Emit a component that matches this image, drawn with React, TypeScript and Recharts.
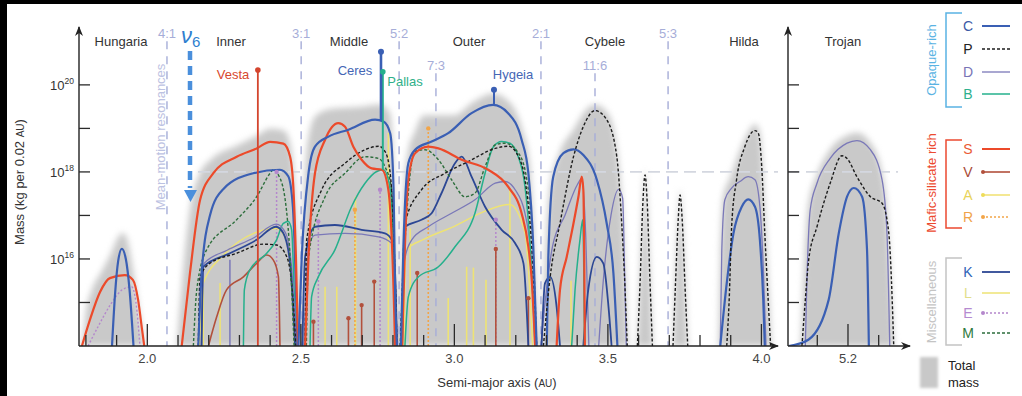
import React from "react";
import { ComposedChart, Area, Line, XAxis, YAxis, ReferenceLine } from "recharts";

type Pt = [number, number];

// log10 mass (kg per 0.02 AU) against semi-major axis (AU)
const totalMain: Pt[] = [
  [1.7775, 14], [1.787, 14.05], [1.8, 14.8], [1.82, 15.3], [1.85, 15.7], [1.88, 16.1], [1.905, 16.5], [1.92, 16.6],
  [1.935, 16.45], [1.95, 15.9], [1.965, 15.2], [1.98, 14.5], [1.995, 14], [2.095, 14], [2.105, 14.8], [2.12, 16.0],
  [2.14, 17.2], [2.17, 17.95], [2.21, 18.3], [2.29, 18.6], [2.36, 18.85], [2.4, 19.0], [2.445, 18.95], [2.465, 18.65],
  [2.478, 17.9], [2.487, 16.5], [2.496, 14.6], [2.503, 15.8], [2.512, 17.8], [2.525, 18.8], [2.55, 19.3], [2.6, 19.45],
  [2.7, 19.5], [2.76, 19.55], [2.79, 19.35], [2.8, 18.5], [2.808, 16.5], [2.818, 14.5], [2.828, 15.5], [2.835, 17.5],
  [2.85, 18.5], [2.87, 18.9], [2.9, 19.3], [2.95, 19.3], [3.0, 19.3], [3.06, 19.6], [3.126, 19.8], [3.18, 19.6],
  [3.22, 19.0], [3.245, 18.2], [3.258, 16.8], [3.268, 15], [3.278, 14], [3.284, 14.2], [3.295, 16], [3.31, 17.6],
  [3.34, 18.4], [3.39, 19.0], [3.42, 19.35], [3.458, 19.55], [3.5, 19.35], [3.53, 18.5], [3.548, 17], [3.558, 15.5],
  [3.568, 14], [3.594, 14], [3.604, 15.6], [3.614, 17.4], [3.621, 18.05], [3.628, 17.4], [3.638, 15.6], [3.648, 14],
  [3.71, 14], [3.719, 15.5], [3.729, 17], [3.735, 17.6], [3.742, 17], [3.752, 15.5], [3.762, 14], [3.86, 14],
  [3.866, 16], [3.875, 17.4], [3.9, 17.9], [3.93, 18.5], [3.96, 18.95], [3.98, 19.1], [3.995, 18.9], [4.005, 18.0],
  [4.015, 16.6], [4.025, 15.2], [4.035, 14], [4.054, 14],
];
const totalTrojan: Pt[] = [
  [5.0046, 14], [5.045, 14], [5.055, 15.5], [5.07, 17.2], [5.1, 17.95], [5.14, 18.5], [5.2, 18.85], [5.23, 18.9],
  [5.27, 18.7], [5.31, 18.0], [5.328, 17.0], [5.34, 15.4], [5.352, 14], [5.402, 14],
];

// Hungaria
const cHung: Pt[] = [[1.885, 14], [1.895, 15.2], [1.905, 15.95], [1.917, 16.23], [1.93, 16.0], [1.942, 15.3], [1.955, 14]];
const sHung: Pt[] = [[1.787, 14], [1.813, 14.6], [1.846, 15.24], [1.878, 15.56], [1.927, 15.63], [1.953, 15.52], [1.97, 15.06], [1.983, 14.37], [1.99, 14]];
const eHung: Pt[] = [[1.807, 14], [1.84, 14.45], [1.88, 14.95], [1.92, 15.3], [1.949, 15.36], [1.963, 15.0], [1.976, 14]];

// Inner belt
const sInner: Pt[] = [[2.112, 14], [2.139, 15.68], [2.172, 17.36], [2.215, 17.97], [2.291, 18.35], [2.356, 18.54], [2.4, 18.69], [2.443, 18.65], [2.465, 18.35], [2.476, 17.59], [2.484, 16.05], [2.491, 14]];
const cInner: Pt[] = [[2.166, 14], [2.177, 15.68], [2.204, 17.0], [2.248, 17.61], [2.345, 17.97], [2.432, 18.05], [2.459, 17.9], [2.474, 17.2], [2.481, 16.05], [2.489, 14]];
const mInner: Pt[] = [[2.15, 14], [2.161, 15.29], [2.193, 16.21], [2.291, 16.9], [2.356, 17.43], [2.4, 17.97], [2.41, 18.05], [2.427, 17.93], [2.449, 17.36], [2.465, 16.05], [2.478, 14]];
const pInner: Pt[] = [[2.166, 14], [2.172, 15.59], [2.204, 15.9], [2.291, 16.13], [2.378, 16.34], [2.421, 16.32], [2.454, 16.05], [2.47, 15.44], [2.484, 14]];
const kInner: Pt[] = [[2.177, 14], [2.182, 15.82], [2.269, 16.13], [2.356, 16.44], [2.419, 16.74], [2.443, 16.59], [2.465, 15.9], [2.481, 14]];
const dInner: Pt[] = [[2.175, 14], [2.185, 15.9], [2.26, 16.2], [2.35, 16.5], [2.42, 16.8], [2.45, 16.6], [2.47, 15.8], [2.485, 14]];
const bInner: Pt[] = [[2.313, 14], [2.316, 15.29], [2.334, 15.75], [2.389, 16.13], [2.421, 16.44], [2.443, 16.82], [2.459, 16.86], [2.47, 16.67], [2.478, 15.29], [2.484, 14]];
const vInner: Pt[] = [[2.199, 14], [2.226, 14.67], [2.258, 15.29], [2.313, 15.59], [2.356, 15.9], [2.389, 16.09], [2.41, 15.98], [2.427, 15.59], [2.432, 14]];
const lInner: Pt[] = [[2.17, 14], [2.18, 15.4], [2.25, 16.1], [2.35, 16.6], [2.42, 16.7], [2.46, 16.3], [2.48, 14]];

// Middle belt
const cMid: Pt[] = [[2.492, 14], [2.503, 16.05], [2.525, 17.97], [2.546, 18.58], [2.59, 18.81], [2.655, 18.97], [2.742, 19.2], [2.769, 19.16], [2.791, 18.89], [2.802, 17.59], [2.807, 15.29], [2.813, 14]];
const sMid: Pt[] = [[2.514, 14], [2.525, 16.05], [2.546, 17.97], [2.579, 18.74], [2.622, 19.12], [2.644, 19.04], [2.671, 18.58], [2.698, 18.28], [2.731, 18.08], [2.764, 18.05], [2.785, 17.59], [2.802, 15.29], [2.807, 14]];
const pMid: Pt[] = [[2.514, 14], [2.519, 16.44], [2.568, 17.59], [2.644, 18.2], [2.709, 18.51], [2.753, 18.59], [2.774, 18.47], [2.791, 17.97], [2.805, 16.05], [2.813, 14]];
const mMid: Pt[] = [[2.518, 14], [2.525, 16.05], [2.579, 17.43], [2.644, 17.97], [2.709, 18.35], [2.753, 18.31], [2.774, 18.12], [2.796, 17.59], [2.803, 16.0], [2.807, 14]];
const bMid: Pt[] = [[2.53, 14], [2.535, 15.13], [2.557, 15.59], [2.611, 16.21], [2.665, 17.2], [2.709, 17.74], [2.747, 18.01], [2.769, 18.05], [2.785, 17.82], [2.796, 17.2], [2.805, 15.29], [2.809, 14]];
const kMid: Pt[] = [[2.505, 14], [2.514, 16.05], [2.546, 16.74], [2.611, 16.78], [2.698, 16.67], [2.774, 16.59], [2.796, 16.44], [2.807, 15.67], [2.813, 14]];
const dMid: Pt[] = [[2.51, 14], [2.525, 16.28], [2.546, 16.55], [2.644, 16.59], [2.753, 16.51], [2.796, 16.36], [2.807, 15.59], [2.813, 14]];

// Outer belt
const cOut: Pt[] = [[2.826, 14], [2.834, 16.28], [2.85, 18.2], [2.872, 18.51], [2.926, 18.7], [2.98, 18.89], [3.056, 19.35], [3.126, 19.54], [3.175, 19.35], [3.219, 18.74], [3.241, 17.97], [3.257, 16.28], [3.268, 14]];
const sOut: Pt[] = [[2.83, 14], [2.839, 16.28], [2.85, 17.82], [2.872, 18.43], [2.915, 18.58], [2.948, 18.54], [3.024, 18.28], [3.11, 18.05], [3.175, 17.66], [3.219, 17.05], [3.241, 16.28], [3.252, 15.52], [3.263, 14]];
const pOut: Pt[] = [[2.824, 14], [2.828, 14.75], [2.839, 16.82], [2.893, 17.59], [2.97, 17.97], [3.046, 18.24], [3.133, 18.54], [3.176, 18.59], [3.209, 18.35], [3.23, 17.82], [3.252, 16.28], [3.268, 14]];
const mOut: Pt[] = [[2.824, 14], [2.828, 14.75], [2.845, 17.05], [2.872, 18.47], [2.904, 18.51], [2.948, 18.28], [2.991, 17.82], [3.035, 17.43], [3.067, 17.51], [3.1, 18.12], [3.133, 18.62], [3.165, 18.66], [3.209, 18.43], [3.236, 17.82], [3.257, 16.13], [3.268, 14]];
const bOut: Pt[] = [[2.839, 14], [2.85, 15.13], [2.883, 15.59], [2.948, 15.82], [3.002, 16.28], [3.067, 17.05], [3.1, 17.97], [3.127, 18.58], [3.154, 18.7], [3.181, 18.66], [3.208, 18.35], [3.23, 17.66], [3.247, 16.28], [3.263, 14]];
const kOut: Pt[] = [[2.83, 14], [2.834, 15.5], [2.839, 16.74], [2.893, 16.9], [2.926, 17.05], [2.958, 17.51], [3.002, 18.2], [3.024, 18.35], [3.056, 17.89], [3.1, 17.2], [3.154, 16.67], [3.198, 16.36], [3.225, 15.9], [3.241, 14]];
const dOut: Pt[] = [[2.828, 14], [2.834, 15.82], [2.861, 16.44], [2.915, 16.74], [2.991, 17.05], [3.067, 17.36], [3.133, 17.74], [3.165, 17.78], [3.198, 17.59], [3.23, 17.05], [3.252, 15.82], [3.263, 14]];
const lOut: Pt[] = [[2.836, 14], [2.842, 16.2], [2.9, 16.45], [3.0, 16.75], [3.1, 17.1], [3.18, 17.25], [3.23, 16.6], [3.255, 14]];

// Cybele
const pCyb: Pt[] = [[3.29, 14], [3.312, 15.59], [3.344, 16.82], [3.388, 18.35], [3.42, 19.04], [3.458, 19.41], [3.496, 19.2], [3.529, 18.35], [3.545, 16.82], [3.556, 15.29], [3.563, 14]];
const cCyb: Pt[] = [[3.301, 14], [3.306, 16.05], [3.322, 17.89], [3.355, 18.43], [3.388, 18.52], [3.42, 18.39], [3.464, 17.82], [3.496, 16.82], [3.518, 15.67], [3.531, 14]];
const dCyb1: Pt[] = [[3.282, 14], [3.3, 15.3], [3.32, 16.3], [3.36, 17.0], [3.4, 17.7], [3.415, 17.85], [3.428, 16.5], [3.438, 14]];
const dCyb2: Pt[] = [[3.47, 14], [3.485, 15.5], [3.51, 17.0], [3.535, 17.6], [3.548, 17.4], [3.555, 15.5], [3.56, 14]];
const sCyb: Pt[] = [[3.333, 14], [3.344, 15.29], [3.366, 16.05], [3.388, 16.82], [3.404, 17.43], [3.415, 17.89], [3.42, 17.59], [3.423, 16.05], [3.425, 14]];
const bCyb: Pt[] = [[3.382, 14], [3.393, 15.29], [3.409, 16.44], [3.418, 16.9], [3.421, 16.05], [3.424, 14]];
const kCyb1: Pt[] = [[3.284, 14], [3.295, 15.44], [3.312, 15.59], [3.333, 14.9], [3.344, 14]];
const kCyb2: Pt[] = [[3.42, 14], [3.436, 15.29], [3.464, 16.05], [3.485, 15.9], [3.502, 14.9], [3.512, 14]];
const pPeak1: Pt[] = [[3.596, 14], [3.605, 15.5], [3.614, 17.3], [3.621, 17.93], [3.628, 17.3], [3.637, 15.5], [3.645, 14]];
const pPeak2: Pt[] = [[3.712, 14], [3.72, 15.4], [3.729, 16.9], [3.735, 17.47], [3.742, 16.9], [3.751, 15.4], [3.76, 14]];

// Hilda
const pHil: Pt[] = [[3.887, 14], [3.895, 15.06], [3.903, 16.74], [3.919, 17.82], [3.946, 18.58], [3.979, 18.95], [3.99, 18.89], [4.001, 18.12], [4.011, 16.59], [4.022, 15.06], [4.03, 14]];
const dHil: Pt[] = [[3.866, 14], [3.871, 16.21], [3.881, 17.36], [3.903, 17.63], [3.93, 17.78], [3.957, 17.89], [3.979, 17.82], [3.995, 17.2], [4.006, 15.82], [4.015, 14]];
const cHil: Pt[] = [[3.866, 14], [3.887, 15.44], [3.909, 16.59], [3.936, 17.2], [3.957, 17.37], [3.979, 17.2], [3.995, 16.44], [4.006, 15.06], [4.011, 14]];

// Trojan
const dTro: Pt[] = [[5.061, 14], [5.066, 15.44], [5.077, 17.13], [5.099, 17.74], [5.142, 18.31], [5.197, 18.66], [5.229, 18.72], [5.273, 18.51], [5.311, 17.82], [5.327, 16.59], [5.336, 14]];
const pTro: Pt[] = [[5.05, 14], [5.061, 15.06], [5.072, 15.98], [5.099, 16.74], [5.142, 17.74], [5.18, 18.37], [5.197, 18.31], [5.229, 17.89], [5.273, 17.43], [5.311, 17.28], [5.333, 16.59], [5.344, 15.06], [5.349, 14]];
const cTro: Pt[] = [[5.007, 14], [5.072, 14.15], [5.137, 15.06], [5.17, 16.59], [5.197, 17.43], [5.219, 17.63], [5.246, 17.43], [5.262, 16.21], [5.268, 14]];

// single large bodies, one stem each
const vStems: Pt[] = [[2.541, 14.56], [2.655, 14.64], [2.698, 14.94], [2.739, 15.48], [2.879, 15.68], [3.135, 16.23], [3.241, 15.1]];
const rStems: Pt[] = [[2.676, 17.13], [2.915, 19.0]];
const eStems: Pt[] = [[2.421, 18.0], [2.557, 16.86], [2.758, 17.59], [3.135, 16.9]];
const lStems: Pt[] = [[2.182, 15.36], [2.237, 15.45], [2.579, 15.36], [2.617, 15.36], [2.678, 17.43], [2.785, 18.9], [2.856, 16.7], [2.98, 15.1], [3.04, 15.82], [3.062, 15.8], [3.103, 15.52], [3.181, 17.59], [3.38, 15.5]];
const dStems: Pt[] = [[2.269, 15.98]];

const vesta: Pt = [2.36, 20.34];
const ceres: Pt = [2.761, 20.76];
const pallas: Pt = [2.767, 20.3];
const hygeia: Pt = [3.129, 19.89];

const mainTicks = [1.8, 1.9, 2.0, 2.1, 2.2, 2.3, 2.4, 2.5, 2.6, 2.7, 2.8, 2.9, 3.0, 3.1, 3.2, 3.3, 3.4, 3.5, 3.6, 3.7, 3.8, 3.9, 4.0];
const mainLabels = [2.0, 2.5, 3.0, 3.5, 4.0];
const trojanTicks = [5.1, 5.2, 5.3];
const trojanLabels = [5.2];
const massTicks = [15, 16, 17, 18, 19, 20];

const resonances: [string, number][] = [["4:1", 2.064], ["3:1", 2.501], ["5:2", 2.82], ["2:1", 3.282], ["5:3", 3.696]];
const lowResonances: [string, number][] = [["7:3", 2.94], ["11:6", 3.458]];

const FONT = "'Liberation Sans', Arial, Helvetica, sans-serif";

const STYLE: Record<string, { stroke: string; width: number; dash?: string }> = {
  C: { stroke: "#3a5fb4", width: 2.2 },
  P: { stroke: "#1c1c1c", width: 1.4, dash: "3 2" },
  D: { stroke: "#7a78b8", width: 1.3 },
  B: { stroke: "#25b08c", width: 1.5 },
  S: { stroke: "#ec4a2a", width: 2.2 },
  V: { stroke: "#b2503c", width: 1.6 },
  A: { stroke: "#eedc58", width: 1.3 },
  R: { stroke: "#f2a548", width: 1.6, dash: "2 2" },
  K: { stroke: "#2c4794", width: 1.8 },
  L: { stroke: "#eee374", width: 1.5 },
  E: { stroke: "#b487cc", width: 1.4, dash: "2 2" },
  M: { stroke: "#2d6e3c", width: 1.4, dash: "3 2" },
};

const LETTER: Record<string, string> = {
  C: "#3c5aa6", P: "#222", D: "#7874b6", B: "#2fb08d", S: "#ea5a33", V: "#a84a35",
  A: "#e8d35a", R: "#f0a34a", K: "#2f63b8", L: "#e2de8a", E: "#b58ad0", M: "#2f7a3c",
};

const mainCurves: [string, Pt[]][] = [
  ["L", lInner], ["L", lOut],
  ["E", eHung], ["S", sHung], ["C", cHung],
  ["V", vInner], ["B", bInner], ["D", dInner], ["K", kInner], ["P", pInner], ["M", mInner], ["C", cInner], ["S", sInner],
  ["D", dMid], ["K", kMid], ["B", bMid], ["M", mMid], ["P", pMid], ["S", sMid], ["C", cMid],
  ["D", dOut], ["K", kOut], ["B", bOut], ["M", mOut], ["P", pOut], ["S", sOut], ["C", cOut],
  ["D", dCyb1], ["D", dCyb2], ["K", kCyb1], ["K", kCyb2], ["B", bCyb], ["S", sCyb], ["C", cCyb],
  ["P", pCyb], ["P", pPeak1], ["P", pPeak2],
  ["D", dHil], ["C", cHil], ["P", pHil],
];
const trojanCurves: [string, Pt[]][] = [["D", dTro], ["C", cTro], ["P", pTro]];

const toData = (pts: Pt[]) => pts.map(([a, m]) => ({ a, m }));

const curve = (cls: string, pts: Pt[], key: string) => {
  const s = STYLE[cls];
  return (
    <Line key={key} data={toData(pts)} dataKey="m" type="monotone" stroke={s.stroke} strokeWidth={s.width}
      strokeDasharray={s.dash} dot={false} activeDot={false} isAnimationActive={false} />
  );
};

const stem = (color: string, width: number, [a, m]: Pt, key: string, base = 14, r = 0, dash?: string) => (
  <Line key={key} data={[{ a, m: base }, { a, m }]} dataKey="m" type="linear" stroke={color} strokeWidth={width}
    strokeDasharray={dash} activeDot={false} isAnimationActive={false}
    dot={r > 0 ? (p: any) => (p.index === 1 ? <circle key={"d" + p.index} cx={p.cx} cy={p.cy} r={r} fill={color} /> : <g key={"d" + p.index} />) : false} />
);

function XTick(props: any) {
  const { x, y, payload, labelled } = props;
  const v = payload.value;
  const major = labelled.some((t: number) => Math.abs(t - v) < 1e-6);
  return (
    <g>
      <line x1={x} x2={x} y1={y} y2={y - (major ? 22 : 11)} stroke="#2a2a2a" strokeWidth={1.3} />
      {major && (
        <text x={x} y={y + 17} textAnchor="middle" fontSize={13} fill="#444">{v.toFixed(1)}</text>
      )}
    </g>
  );
}

function YTick(props: any) {
  const { x, y, payload, showLabels } = props;
  const v = payload.value;
  return (
    <g>
      <line x1={x} x2={x + 11} y1={y} y2={y} stroke="#2a2a2a" strokeWidth={1.3} />
      {showLabels && v % 2 === 0 && (
        <text x={x - 5} y={y + 5} textAnchor="end" fontSize={13} fill="#333">
          10<tspan dy={-6} fontSize={8.5}>{v}</tspan>
        </text>
      )}
    </g>
  );
}

const axisStroke = { stroke: "#222", strokeWidth: 1.4 };
const resonanceStroke = { stroke: "#a6add8", strokeWidth: 1.4, strokeDasharray: "8 7" };

function LegendRow({ cls, y, dot }: { cls: string; y: number; dot?: boolean }) {
  const s = STYLE[cls];
  return (
    <g>
      <text x={968} y={y + 5} textAnchor="middle" fontSize={14} fill={LETTER[cls]}>{cls}</text>
      <line x1={982} x2={1010} y1={y} y2={y} stroke={s.stroke} strokeWidth={Math.min(s.width, 2)} strokeDasharray={s.dash} />
      {dot && <circle cx={983} cy={y} r={2} fill={s.stroke} />}
    </g>
  );
}

function Bracket({ top, bottom, color, label, center }: { top: number; bottom: number; color: string; label: string; center: number }) {
  return (
    <g>
      <path d={`M962,${top} H946 V${bottom} H962`} fill="none" stroke={color} strokeWidth={1.5} />
      <text transform={`translate(936,${center}) rotate(-90)`} textAnchor="middle" fontSize={13} fill={color}>{label}</text>
    </g>
  );
}

export default function App() {
  return (
    <div style={{ position: "relative", width: 1022, height: 396, background: "#000", fontFamily: FONT, overflow: "hidden" }}>
      <style>{`body{margin:0} .total-mass path{filter:blur(3px)}`}</style>
      <div style={{ position: "absolute", left: 7, top: 4, width: 1015, height: 392, background: "#fff" }} />

      <div style={{ position: "absolute", left: 0, top: 0 }}>
        <ComposedChart width={790} height={396} data={toData(totalMain)} margin={{ top: 27, right: 12, bottom: 20, left: 29 }}>
          <XAxis type="number" dataKey="a" domain={[1.7775, 4.054]} allowDataOverflow ticks={mainTicks} interval={0}
            tickSize={0} tickMargin={0} tickLine={false} height={30}
            axisLine={{ ...axisStroke, markerEnd: "url(#axisArrow)" }}
            tick={(p: any) => <XTick {...p} labelled={mainLabels} />} />
          <YAxis type="number" domain={[14, 21.33]} allowDataOverflow ticks={massTicks} interval={0}
            tickSize={0} tickMargin={0} tickLine={false} width={50}
            axisLine={{ ...axisStroke, markerStart: "url(#axisArrow)" }}
            tick={(p: any) => <YTick {...p} showLabels />} />
          <Area dataKey="m" type="monotone" fill="#c9c9c9" fillOpacity={1} stroke="none" baseValue={14}
            className="total-mass" isAnimationActive={false} />
          {resonances.map(([name, a]) => (
            <ReferenceLine key={name} segment={[{ x: a, y: 21.0 }, { x: a, y: 14 }]} {...resonanceStroke}
              label={{ value: name, position: "top", fill: "#a6add8", fontSize: 13, offset: 3 }} />
          ))}
          {lowResonances.map(([name, a]) => (
            <ReferenceLine key={name} segment={[{ x: a, y: 20.27 }, { x: a, y: 14 }]} {...resonanceStroke}
              label={{ value: name, position: "top", fill: "#a6add8", fontSize: 13, offset: 3 }} />
          ))}
          <ReferenceLine segment={[{ x: 2.165, y: 18 }, { x: 4.054, y: 18 }]} stroke="#d4d7e0" strokeWidth={1.6} strokeDasharray="12 6" />

          {lStems.map((p, i) => stem(STYLE.L.stroke, 1.6, p, "l" + i))}
          {dStems.map((p, i) => stem(STYLE.D.stroke, 1.5, p, "ds" + i))}
          {eStems.map((p, i) => stem(STYLE.E.stroke, 1.5, p, "e" + i, 14, 2.2, "2 2"))}
          {rStems.map((p, i) => stem(STYLE.R.stroke, 1.6, p, "r" + i, 14, 2.2, "2 2"))}
          {vStems.map((p, i) => stem(STYLE.V.stroke, 1.6, p, "v" + i, 14, 2.2))}

          {mainCurves.map(([cls, pts], i) => curve(cls, pts, "c" + i))}

          {stem("#d4452e", 1.8, vesta, "vesta", 14, 2.8)}
          {stem(STYLE.B.stroke, 2, pallas, "pallas", 18.05, 2.8)}
          {stem(STYLE.C.stroke, 2.6, ceres, "ceres", 19.18, 3)}
          {stem(STYLE.C.stroke, 2, hygeia, "hygeia", 19.54, 3)}
        </ComposedChart>
      </div>

      <div style={{ position: "absolute", left: 770, top: 0 }}>
        <ComposedChart width={150} height={396} data={toData(totalTrojan)} margin={{ top: 27, right: 10, bottom: 20, left: 8 }}>
          <XAxis type="number" dataKey="a" domain={[5.0046, 5.402]} allowDataOverflow ticks={trojanTicks} interval={0}
            tickSize={0} tickMargin={0} tickLine={false} height={30}
            axisLine={{ ...axisStroke, markerEnd: "url(#axisArrow)" }}
            tick={(p: any) => <XTick {...p} labelled={trojanLabels} />} />
          <YAxis type="number" domain={[14, 21.33]} allowDataOverflow ticks={massTicks} interval={0}
            tickSize={0} tickMargin={0} tickLine={false} width={10}
            axisLine={{ ...axisStroke, markerStart: "url(#axisArrow)" }}
            tick={(p: any) => <YTick {...p} showLabels={false} />} />
          <Area dataKey="m" type="monotone" fill="#c9c9c9" fillOpacity={1} stroke="none" baseValue={14}
            className="total-mass" isAnimationActive={false} />
          <ReferenceLine segment={[{ x: 5.0046, y: 18 }, { x: 5.363, y: 18 }]} stroke="#d4d7e0" strokeWidth={1.6} strokeDasharray="12 6" />
          {trojanCurves.map(([cls, pts], i) => curve(cls, pts, "t" + i))}
        </ComposedChart>
      </div>

      <svg width={1022} height={396} style={{ position: "absolute", left: 0, top: 0, pointerEvents: "none" }}>
        <defs>
          <marker id="axisArrow" viewBox="0 0 10 8" refX={9} refY={4} markerWidth={10} markerHeight={8}
            markerUnits="userSpaceOnUse" orient="auto-start-reverse">
            <path d="M0,0 L10,4 L0,8 L3,4 z" fill="#222" />
          </marker>
        </defs>

        <text transform="translate(24,182) rotate(-90)" textAnchor="middle" fontSize={13} fill="#333">
          Mass (kg per 0.02 <tspan fontSize={10}>AU</tspan>)
        </text>
        <text x={497} y={387} textAnchor="middle" fontSize={13} fill="#333">
          Semi-major axis (<tspan fontSize={10}>AU</tspan>)
        </text>

        <g fontSize={13} fill="#333" textAnchor="middle">
          <text x={121} y={46}>Hungaria</text>
          <text x={231} y={46}>Inner</text>
          <text x={349} y={46}>Middle</text>
          <text x={469} y={46}>Outer</text>
          <text x={605} y={46}>Cybele</text>
          <text x={744} y={46}>Hilda</text>
          <text x={843} y={46}>Trojan</text>
        </g>

        <text transform="translate(165,137) rotate(-90)" textAnchor="middle" fontSize={13} fill="#bcc2e2">
          Mean-motion resonances
        </text>

        <text x={181} y={43} fontSize={22} fontStyle="italic" fill="#2f7fd0">ν<tspan dy={4} fontSize={15} fontStyle="normal">6</tspan></text>
        <line x1={190} x2={190} y1={51} y2={188} stroke="#4a8fdc" strokeWidth={4.5} strokeDasharray="9 6" />
        <polygon points="184,190 197,190 190.5,202" fill="#4a8fdc" />

        <g fontSize={13} textAnchor="middle">
          <text x={233} y={79} fill="#d8482e">Vesta</text>
          <text x={355} y={75} fill="#4566b5">Ceres</text>
          <text x={405} y={86} fill="#2fb08a">Pallas</text>
          <text x={513} y={79} fill="#4566b5">Hygeia</text>
        </g>

        <Bracket top={13} bottom={107} center={60} color="#5ab3e3" label="Opaque-rich" />
        <LegendRow cls="C" y={26} />
        <LegendRow cls="P" y={49} />
        <LegendRow cls="D" y={72} />
        <LegendRow cls="B" y={94} />

        <Bracket top={140} bottom={228} center={183} color="#ec4a30" label="Mafic-silicate rich" />
        <LegendRow cls="S" y={149} />
        <LegendRow cls="V" y={172} dot />
        <LegendRow cls="A" y={195} dot />
        <LegendRow cls="R" y={217} dot />

        <Bracket top={258} bottom={345} center={302} color="#c4c4c4" label="Miscellaneous" />
        <LegendRow cls="K" y={272} />
        <LegendRow cls="L" y={293} />
        <LegendRow cls="E" y={313} dot />
        <LegendRow cls="M" y={333} />

        <rect x={920} y={357} width={18} height={31} fill="#c8c8c8" style={{ filter: "blur(1.5px)" }} />
        <text x={948} y={370} fontSize={13} fill="#222">Total</text>
        <text x={948} y={387} fontSize={13} fill="#222">mass</text>
      </svg>
    </div>
  );
}
